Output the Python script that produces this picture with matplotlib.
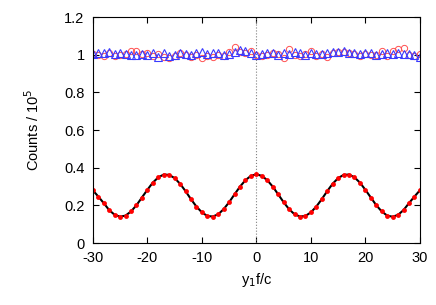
import numpy as np
import matplotlib.pyplot as plt

plt.rcParams['font.family'] = ['Liberation Sans', 'DejaVu Sans']
plt.rcParams['axes.unicode_minus'] = False

x = np.arange(-30, 31)

# coincidence counts (scaled by 1e5)
coinc = [0.280, 0.247, 0.212, 0.175, 0.150, 0.140, 0.146, 0.168, 0.201, 0.242,
         0.283, 0.321, 0.349, 0.364, 0.362, 0.345, 0.315, 0.276, 0.233, 0.194,
         0.163, 0.144, 0.141, 0.153, 0.180, 0.217, 0.259, 0.300, 0.334, 0.357,
         0.365,
         0.357, 0.334, 0.300, 0.259, 0.217, 0.180, 0.153, 0.141, 0.144, 0.163,
         0.194, 0.233, 0.276, 0.315, 0.345, 0.362, 0.364, 0.349, 0.321, 0.283,
         0.242, 0.201, 0.168, 0.146, 0.140, 0.150, 0.175, 0.212, 0.247, 0.280]

# single counts, detector 1 (circles) and detector 2 (triangles)
single1 = [1.005, 1.000, 0.995, 1.008, 0.992, 0.998, 1.002, 1.020, 1.022, 1.003,
           1.010, 0.995, 1.005, 0.990, 0.985, 0.995, 1.008, 1.000, 0.990, 1.000,
           0.985, 0.995, 0.990, 1.000, 0.995, 1.012, 1.040, 1.015, 1.010, 1.020,
           1.000,
           0.995, 1.000, 1.010, 1.005, 0.985, 1.030, 1.000, 0.995, 1.005, 1.022,
           0.995, 1.005, 0.990, 1.008, 1.015, 1.012, 1.010, 1.005, 0.995, 1.005,
           1.000, 1.000, 1.020, 0.995, 1.018, 1.030, 1.035, 1.000, 0.995, 1.005]
single2 = [1.005, 1.008, 1.010, 1.012, 1.005, 1.010, 1.003, 1.000, 0.998, 1.005,
           1.000, 1.010, 0.990, 1.008, 0.995, 0.998, 1.010, 1.005, 1.000, 1.008,
           1.012, 1.005, 1.010, 1.008, 1.000, 1.002, 1.015, 1.025, 1.020, 1.008,
           1.000,
           1.005, 1.010, 1.008, 1.000, 1.010, 1.005, 1.012, 1.008, 1.000, 1.010,
           1.005, 1.003, 1.008, 1.015, 1.012, 1.018, 1.010, 1.008, 1.005, 1.010,
           1.008, 1.000, 1.002, 1.010, 1.005, 1.008, 1.002, 1.005, 1.000, 0.990]

fig = plt.figure(figsize=(4.36, 3.05), dpi=100)
ax = fig.add_axes([0.213, 0.203, 0.750, 0.741])

ax.axvline(0, color='gray', ls=':', lw=0.8)

ax.plot(x, single1, 'o', mfc='none', mec='#ff5050', ms=4.5, mew=0.7)
ax.plot(x, single2, '^', mfc='none', mec='#3a3aff', ms=5.5, mew=0.8)
ax.plot(x, coinc, '-', color='black', lw=1.5)
ax.plot(x, coinc, 'o', color='red', ms=3.5, mew=0)

ax.set_xlim(-30, 30)
ax.set_ylim(0, 1.2)
ax.set_xticks(range(-30, 31, 10))
ax.set_yticks([0, 0.2, 0.4, 0.6, 0.8, 1.0, 1.2])
ax.set_yticklabels(['0', '0.2', '0.4', '0.6', '0.8', '1', '1.2'])
ax.tick_params(direction='in', top=True, right=True, labelsize=10.5, length=4, pad=6)

ax.set_xlabel('y$_1$f/c', fontsize=10.5, labelpad=4)
ax.set_ylabel('Counts / 10$^5$', fontsize=10.5, labelpad=16)

fig.savefig('out.png', dpi=100)
